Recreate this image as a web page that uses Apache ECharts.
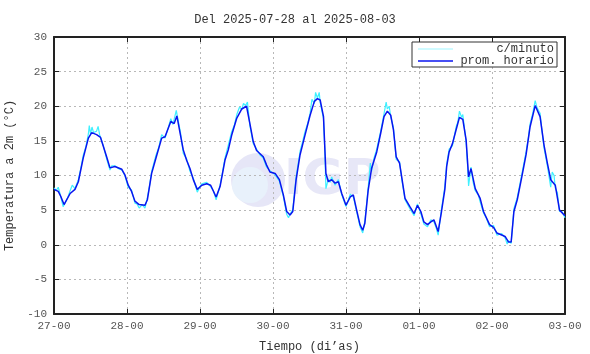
<!DOCTYPE html>
<html>
<head>
<meta charset="utf-8">
<script src="https://cdn.jsdelivr.net/npm/echarts@6/dist/echarts.min.js"></script>
<style>
  html, body { margin: 0; padding: 0; background: #fff; }
  #chart { width: 590px; height: 354px; }
</style>
</head>
<body>
<div id="chart"></div>
<script>
// ticks del eje x (una por dia, cada 24 h)
var dayLabels = ['27-00', '28-00', '29-00', '30-00', '31-00', '01-00', '02-00', '03-00'];

// promedio horario: hora desde 27-00, temperatura
var hourT = [0, 1.4, 2.2, 3.3, 5.3, 6.9, 8.0, 9.6, 11.3, 12.4, 14.0, 15.3, 17.3, 18.4, 20.0, 22.3, 23.3,
  24.4, 25.5, 26.6, 28.0, 29.9, 30.7, 32.1, 33.5, 35.4, 36.5, 38.4, 39.5, 40.4, 41.6, 42.5, 43.6, 44.7, 45.8, 47.1,
  48.6, 50.2, 51.5, 53.3, 54.6, 56.2, 57.3, 58.4, 60.1, 61.7, 63.3, 64.4, 65.5, 66.6, 68.8, 69.9, 71.0,
  72.7, 74.1, 75.4, 76.5, 77.6, 78.5, 79.6, 80.9, 82.5, 84.2, 85.6, 86.6, 87.5, 88.6, 89.4, 90.2, 91.3, 92.4, 93.5, 94.6,
  96.0, 97.4, 98.4, 99.5, 100.6, 101.5, 102.2, 103.3, 104.4, 106.1, 107.4, 108.5, 109.6, 110.7, 111.6, 112.5, 113.6, 115.4, 117.0, 118.4, 119.5,
  120.6, 121.6, 122.8, 123.9, 124.9, 126.3, 127.4, 128.5, 129.1, 129.9, 131.0, 132.2, 133.3, 134.4, 135.5, 136.3, 137.1, 138.5, 140.1, 141.2, 143.2,
  144.5, 145.6, 147.2, 148.3, 149.4, 150.3, 151.2, 152.3, 153.8, 155.2, 156.5, 158.2, 159.8, 161.1, 162.2, 163.3, 164.8, 166.2, 168.0];
var hourV = [8.0, 7.7, 7.0, 5.8, 7.4, 8.0, 9.1, 12.5, 15.4, 16.2, 15.9, 15.5, 12.7, 11.1, 11.3, 10.9, 10.1,
  8.6, 7.7, 6.3, 5.8, 5.7, 6.5, 10.3, 12.5, 15.4, 15.6, 17.8, 17.5, 18.6, 15.8, 13.7, 12.2, 11.0, 9.4, 8.0,
  8.6, 8.8, 8.6, 6.9, 8.4, 12.2, 13.7, 15.8, 18.3, 19.6, 20.0, 17.5, 14.9, 13.6, 12.7, 11.5, 10.5,
  10.3, 9.4, 7.2, 4.8, 4.3, 4.8, 9.4, 13.0, 15.8, 18.7, 20.7, 21.1, 20.9, 18.5, 10.3, 9.1, 9.4, 8.9, 9.1, 7.4,
  5.7, 6.9, 7.2, 5.0, 2.9, 2.1, 3.1, 7.9, 11.0, 13.4, 16.1, 18.5, 19.3, 18.7, 16.6, 12.7, 11.8, 6.7, 5.5, 4.5, 5.7,
  4.8, 3.3, 2.9, 3.3, 3.6, 1.9, 4.8, 8.0, 11.3, 13.4, 14.6, 16.6, 18.4, 18.1, 15.1, 9.8, 11.0, 8.1, 6.7, 4.8, 2.9,
  2.5, 1.7, 1.4, 1.2, 0.4, 0.4, 4.8, 6.5, 9.8, 13.0, 17.0, 20.1, 18.5, 14.4, 11.8, 9.4, 8.6, 5.0, 4.2];

// datos por minuto (aprox.)
var minT = [0, 0.7, 1.4, 2.2, 3.0, 3.6, 4.5, 5.3, 6.0, 6.9, 8.0, 8.8, 9.6, 10.5, 11.3, 11.6, 12.0, 12.5, 13.0, 14.0, 14.5, 15.0,
  16.2, 17.3, 18.4, 19.0, 20.0, 21.2, 22.3, 23.3, 24.4, 25.5, 26.6, 27.3, 28.0, 29.0, 29.9, 30.7, 31.4, 32.1, 33.5, 34.4,
  35.4, 36.5, 37.5, 38.4, 39.0, 39.5, 40.2, 40.8, 41.6, 42.5, 43.6, 44.7, 45.8, 47.1, 48.0, 48.6, 50.2, 51.5, 52.4, 53.3,
  54.6, 55.4, 56.2, 57.3, 58.4, 59.3, 60.1, 61.0, 61.7, 62.3, 63.0, 63.6, 64.4, 65.5, 66.6, 67.7, 68.8, 69.9, 71.0, 72.7,
  74.1, 75.4, 76.5, 77.1, 77.6, 78.5, 79.6, 80.9, 81.8, 82.5, 83.4, 84.2, 84.8, 85.6, 86.0, 86.6, 87.2, 87.5, 88.6, 89.0,
  89.4, 90.2, 90.8, 91.3, 92.4, 93.5, 94.6, 96.0, 97.4, 98.4, 99.5, 100.6, 101.5, 102.2, 103.3, 104.0, 104.4, 105.2, 106.1,
  107.4, 108.5, 109.2, 109.6, 110.2, 110.7, 111.6, 112.5, 113.6, 114.5, 115.4, 117.0, 118.4, 119.5, 120.6, 121.6, 122.8,
  123.9, 124.9, 125.6, 126.3, 127.4, 128.5, 129.1, 129.9, 131.0, 132.2, 132.8, 133.3, 134.0, 134.4, 135.5, 136.0, 136.3,
  137.1, 137.8, 138.5, 139.5, 140.1, 141.2, 142.2, 143.2, 144.5, 145.0, 145.6, 147.2, 148.3, 149.0, 149.4, 150.3, 151.2,
  152.3, 153.8, 155.2, 156.0, 156.5, 157.4, 158.2, 158.8, 159.8, 160.5, 161.1, 162.2, 163.3, 163.8, 164.4, 164.8, 165.5,
  166.2, 167.0, 168.0];
var minV = [8.2, 7.8, 8.3, 7.0, 5.5, 6.0, 6.8, 7.8, 8.6, 8.1, 9.4, 11.0, 12.9, 14.2, 16.0, 17.2, 16.0, 17.0, 16.2, 16.4, 17.1, 15.9,
  14.3, 12.4, 10.8, 11.4, 11.4, 11.0, 10.8, 10.0, 8.3, 7.9, 6.0, 5.9, 5.3, 5.8, 5.3, 6.8, 8.5, 10.6, 12.9, 14.0,
  15.9, 15.4, 16.8, 18.2, 17.4, 18.1, 19.4, 18.0, 16.2, 13.2, 12.4, 10.6, 9.6, 7.6, 8.4, 8.8, 9.0, 8.4, 7.8, 6.5,
  8.6, 10.5, 12.5, 14.4, 16.3, 17.3, 18.8, 19.9, 19.5, 20.4, 20.1, 20.6, 17.2, 14.6, 13.8, 13.0, 12.5, 11.2, 10.7, 10.1,
  9.2, 7.0, 4.4, 3.9, 4.4, 5.1, 9.8, 13.5, 15.0, 16.3, 17.5, 19.0, 21.0, 20.4, 22.0, 21.2, 22.0, 20.6, 18.2, 14.0,
  8.1, 9.5, 9.0, 9.8, 8.6, 9.4, 7.2, 5.5, 7.3, 6.9, 4.8, 2.6, 1.7, 3.4, 8.3, 11.8, 10.6, 12.5, 13.8,
  16.4, 18.9, 20.6, 19.6, 20.0, 18.5, 16.9, 12.3, 12.0, 9.0, 6.5, 5.2, 4.2, 5.9, 4.5, 3.0, 2.6,
  3.6, 3.3, 2.5, 1.4, 5.2, 8.4, 11.6, 13.8, 14.3, 17.0, 17.8, 19.3, 18.4, 18.8, 14.8, 11.2, 8.5,
  11.2, 9.0, 7.8, 7.2, 6.2, 4.6, 3.8, 2.6, 2.8, 2.2, 1.4, 1.6, 1.0, 0.1, 0.6, 0.2, 5.2,
  6.8, 10.2, 13.4, 15.6, 17.4, 19.0, 20.8, 19.8, 19.0, 16.2, 14.0, 11.4, 8.3, 10.5, 10.0, 8.2, 7.5,
  4.8, 4.8, 3.9];

function pairs(t, v) {
  return t.map(function (x, i) { return [x, v[i]]; });
}

var font = 'Liberation Mono';
var chart = echarts.init(document.getElementById('chart'));

var splitDots = { show: true, lineStyle: { color: '#b8b8b8', type: [2, 3], width: 1 } };

chart.setOption({
  animation: false,
  backgroundColor: '#fff',
  textStyle: { fontFamily: font },
  title: {
    text: 'Del 2025-07-28 al 2025-08-03',
    left: 'center', top: 9,
    textStyle: { fontFamily: font, fontSize: 12, fontWeight: 'normal', color: '#333' }
  },
  grid: { left: 54, right: 25, top: 37, bottom: 40, outerBoundsMode: 'none' },
  legend: {
    orient: 'vertical', right: 33, top: 42,
    backgroundColor: '#fff', borderColor: '#333', borderWidth: 1,
    padding: [1, 3, 0, 6], itemGap: 0,
    itemWidth: 35, itemHeight: 12,
    data: [
      { name: 'c/minuto', icon: 'path://M0,0 L35,0 L35,1 L0,1 Z' },
      { name: 'prom. horario', icon: 'path://M0,0 L35,0 L35,1.5 L0,1.5 Z' }
    ],
    formatter: function (n) { return '{a|' + n + '}'; },
    textStyle: {
      fontFamily: font, fontSize: 12, color: '#333',
      rich: { a: { width: 96, align: 'right', fontFamily: font, fontSize: 12, color: '#333' } }
    }
  },
  graphic: [
    { type: 'circle', shape: { cx: 258, cy: 180, r: 27 }, style: { fill: '#e6e6f7' }, z: -5, silent: true },
    { type: 'circle', shape: { cx: 250, cy: 185, r: 18 }, style: { fill: '#e8f1fb' }, z: -4, silent: true },
    { type: 'text', x: 284, y: 156, style: { text: 'IGP', font: 'bold 50px "DejaVu Sans"', fill: '#e7e7f7' }, z: -5, silent: true }
  ],
  xAxis: [{
    type: 'value', min: 0, max: 168, interval: 24,
    name: 'Tiempo (di\u2019as)', nameLocation: 'middle', nameGap: 27,
    nameTextStyle: { fontFamily: font, fontSize: 12, color: '#333' },
    axisLine: { show: true, onZero: false, lineStyle: { color: '#222', width: 2 } },
    axisTick: { show: true, inside: true, length: 5, lineStyle: { color: '#222' } },
    axisLabel: { fontFamily: font, fontSize: 11, color: '#555', margin: 7,
      formatter: function (v) { return dayLabels[Math.round(v / 24)]; } },
    splitLine: splitDots
  }, {
    type: 'value', min: 0, max: 168, interval: 24, position: 'top',
    axisLine: { show: true, onZero: false, lineStyle: { color: '#222', width: 2 } },
    axisTick: { show: true, inside: true, length: 5, lineStyle: { color: '#222' } },
    axisLabel: { show: false }, splitLine: { show: false }
  }],
  yAxis: [{
    type: 'value', min: -10, max: 30, interval: 5,
    name: 'Temperatura a 2m (\u00B0C)', nameLocation: 'middle', nameGap: 31,
    nameTextStyle: { fontFamily: font, fontSize: 12, color: '#333' },
    axisLine: { show: true, onZero: false, lineStyle: { color: '#222', width: 2 } },
    axisTick: { show: true, inside: true, length: 5, lineStyle: { color: '#222' } },
    axisLabel: { fontFamily: font, fontSize: 11, color: '#555', margin: 7 },
    splitLine: splitDots
  }, {
    type: 'value', min: -10, max: 30, interval: 5, position: 'right',
    axisLine: { show: true, onZero: false, lineStyle: { color: '#222', width: 2 } },
    axisTick: { show: true, inside: true, length: 5, lineStyle: { color: '#222' } },
    axisLabel: { show: false }, splitLine: { show: false }
  }],
  series: [{
    name: 'c/minuto', type: 'line', symbol: 'none',
    data: pairs(minT, minV),
    lineStyle: { color: '#3ff0ff', width: 1.2 },
    itemStyle: { color: '#9ff6ff' },
    z: 2
  }, {
    name: 'prom. horario', type: 'line', symbol: 'none',
    data: pairs(hourT, hourV),
    lineStyle: { color: '#0a14f0', width: 1.5 },
    itemStyle: { color: '#0a14f0' },
    z: 3
  }]
});
</script>
</body>
</html>
